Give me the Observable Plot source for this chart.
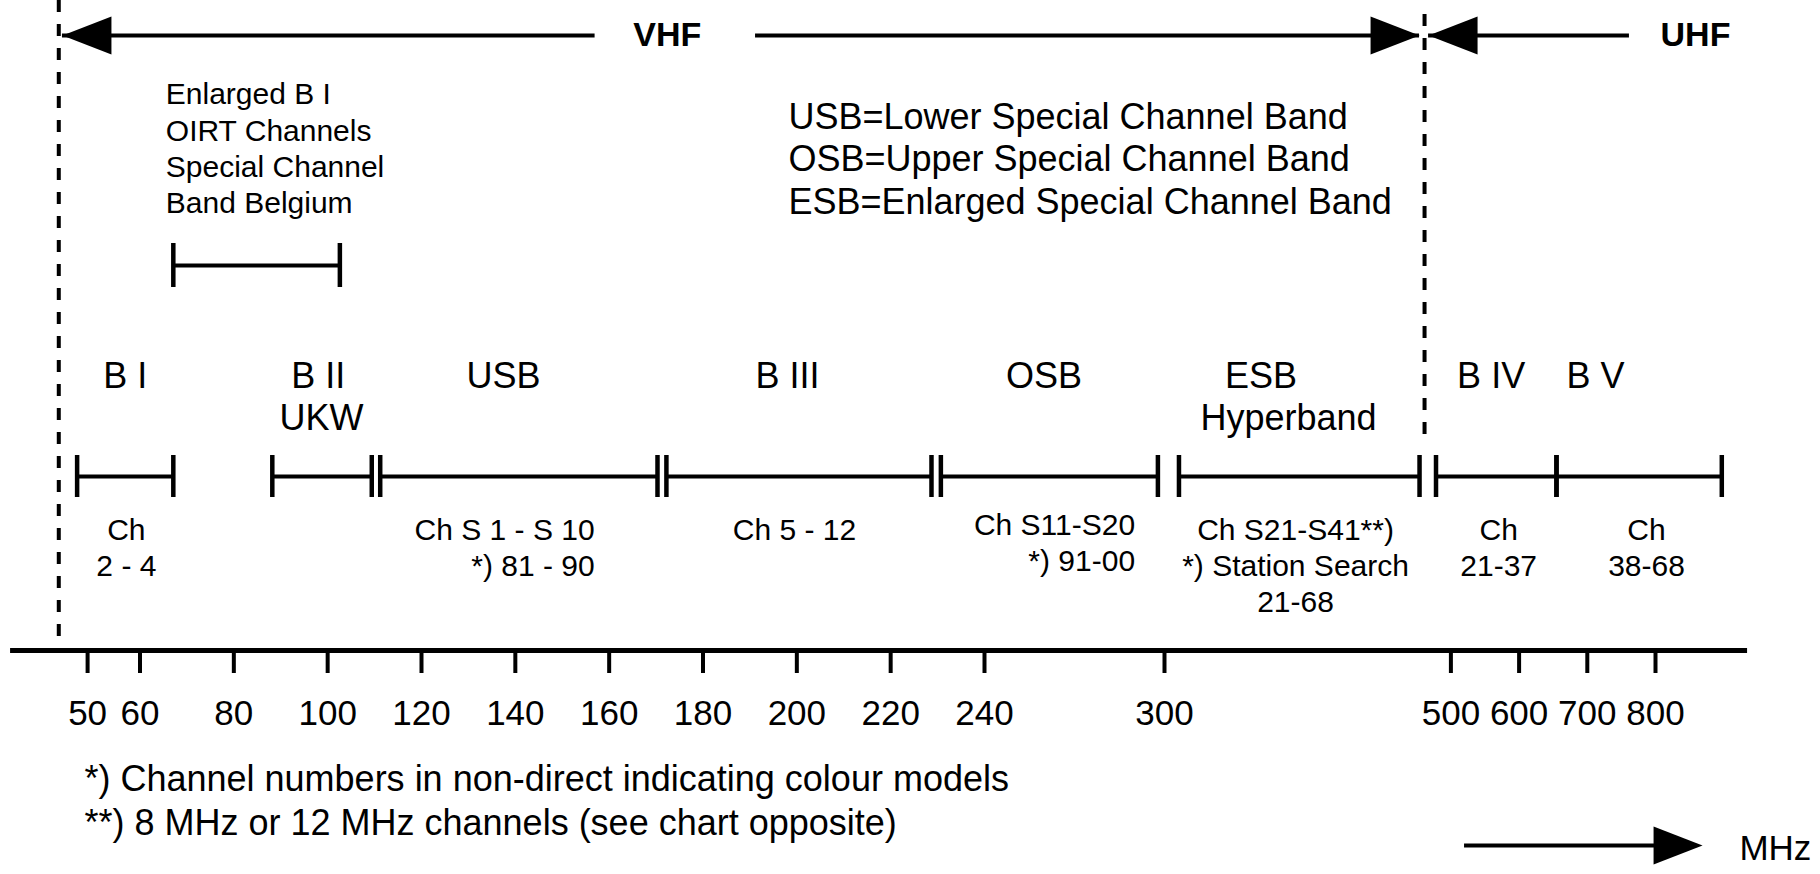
<!DOCTYPE html>
<html>
<head>
<meta charset="utf-8">
<script src="https://cdn.jsdelivr.net/npm/d3@7"></script>
<script src="https://cdn.jsdelivr.net/npm/@observablehq/plot@0.6"></script>
<style>
  html, body { margin: 0; padding: 0; background: #fff; }
  #chart svg { display: block; }
</style>
</head>
<body>
<div id="chart"></div>
<script>
// ---------------- data (MHz) ----------------
const tickValues = [50, 60, 80, 100, 120, 140, 160, 180, 200, 220, 240, 300, 500, 600, 700, 800];

const bandIds         = ["BI", "BII", "USB", "BIII", "OSB", "ESB", "BIV", "BV"];
const bandTitles      = ["B I", "B II", "USB", "B III", "OSB", "ESB", "B IV", "B V"];
const bandTitleMHz    = [57.2, 98.0, 137.5, 198, 259.8, 367.4, 559, 712];
const bandSubtitles   = ["", "UKW", "", "", "", "Hyperband", "", ""];
const bandSubtitleMHz = [null, 98.7, null, null, null, 386.6, null, null];
const bandStartMHz    = [48.0, 88.2, 111.2, 172.2, 230.7, 310.1, 489.6, 654.8];
const bandEndMHz      = [67.1, 109.4, 170.3, 228.7, 297.8, 478.1, 654.8, 897.2];

const channelTexts = ["Ch\n2 - 4", "", "Ch S 1 - S 10\n*) 81 - 90", "Ch 5 - 12", "Ch S11-S20\n*) 91-00",
                      "Ch S21-S41**)\n*) Station Search\n21-68", "Ch\n21-37", "Ch\n38-68"];
const channelMHz   = [57.4, null, 156.9, 199.5, 290.2, 391.5, 570, 786.8];
const channelAlign = ["middle", null, "end", "middle", "end", "middle", "middle", "middle"];

const oirtRangeMHz = [67.1, 102.6];
const oirtNote     = "Enlarged B I\nOIRT Channels\nSpecial Channel\nBand Belgium";
const oirtNoteMHz  = 65.5;

const legendLines  = ["USB=Lower Special Channel Band", "OSB=Upper Special Channel Band", "ESB=Enlarged Special Channel Band"];
const legendMHz    = 198.2;

const footnotes    = ["*) Channel numbers in non-direct indicating colour models",
                      "**) 8 MHz or 12 MHz channels (see chart opposite)"];
const footnoteMHz  = 49.4;

const boundaryMHz  = [44.5, 481.6];             // dashed lines (VHF start, VHF/UHF border)
const vhfArrowMHz  = [45.2, 157, 191.2, 478.1]; // left tip, gap start, gap end, right tip
const vhfLabelMHz  = 172.4;
const uhfArrowMHz  = [484.4, 761.8];
const uhfLabelMHz  = 858.6;
const axisSpanMHz  = [35.3, 935];
const unitArrowMHz = [520, 869];
const unitLabelMHz = 923;

// ---------------- scale (piecewise, as drawn) ----------------
const scaleMHz = [50, 60, 240, 300, 500, 800];
const scalePx  = [87.1, 139.5, 984, 1164, 1450.4, 1655];

// ---------------- layout ----------------
const Y = {arrow: 35, bound1: [0, 644], bound2: [14, 440], note: 78, legend: 98, oirt: 265, oirtHalf: 22,
           title: 361.5, subtitle: 403.5, band: 476, barHalf: 21, chan: 513.5, axis: 650, foot: [779, 823], unit: 845};
const FONT = "'Liberation Sans', Arial, Helvetica, sans-serif";

const bands = bandIds.map((id, i) => ({
  id, title: bandTitles[i], tx: bandTitleMHz[i], sub: bandSubtitles[i], sx: bandSubtitleMHz[i],
  x1: bandStartMHz[i], x2: bandEndMHz[i],
  ch: channelTexts[i], cx: channelMHz[i], align: channelAlign[i]
}));
const ends = bands.flatMap(b => [b.x1, b.x2]);

const headRight = {draw(ctx) { ctx.moveTo(0, 0); ctx.lineTo(-49, -19); ctx.lineTo(-49, 19); ctx.closePath(); }};

const heads = [
  {x: vhfArrowMHz[0], y: Y.arrow, rot: 180},
  {x: vhfArrowMHz[3], y: Y.arrow, rot: 0},
  {x: uhfArrowMHz[0], y: Y.arrow, rot: 180},
  {x: unitArrowMHz[1], y: Y.unit, rot: 0}
];
const shafts = [
  {x1: vhfArrowMHz[0], x2: vhfArrowMHz[1], y: Y.arrow},
  {x1: vhfArrowMHz[2], x2: vhfArrowMHz[3], y: Y.arrow},
  {x1: uhfArrowMHz[0], x2: uhfArrowMHz[1], y: Y.arrow},
  {x1: unitArrowMHz[0], x2: unitArrowMHz[1] - 10, y: Y.unit}
];

const chanMiddle = bands.filter(b => b.align === "middle");
const chanEnd = bands.filter(b => b.align === "end");
const subs = bands.filter(b => b.sub);

const chart = Plot.plot({
  width: 1820,
  height: 874,
  marginTop: 0, marginLeft: 0, marginRight: 0, marginBottom: 874 - Y.axis,
  style: {fontFamily: FONT, fontSize: "35px", color: "#000", background: "#fff"},
  x: {type: "linear", domain: scaleMHz, range: scalePx},
  y: {type: "linear", domain: [0, 874], range: [0, 874], axis: null},
  marks: [
    // dashed boundaries
    Plot.ruleX([boundaryMHz[0]], {x: d => d, y1: Y.bound1[0], y2: Y.bound1[1], stroke: "#000", strokeWidth: 4, strokeDasharray: "12,12"}),
    Plot.ruleX([boundaryMHz[1]], {x: d => d, y1: Y.bound2[0], y2: Y.bound2[1], stroke: "#000", strokeWidth: 4, strokeDasharray: "12,12"}),

    // arrows
    Plot.ruleY(shafts, {x1: "x1", x2: "x2", y: "y", stroke: "#000", strokeWidth: 4}),
    Plot.dot(heads, {x: "x", y: "y", r: 10, symbol: headRight, rotate: "rot", fill: "#000", stroke: "none"}),
    Plot.text(["VHF"], {x: vhfLabelMHz, y: Y.arrow, text: d => d, fontSize: 34, fontWeight: "bold", lineAnchor: "middle", fill: "#000"}),
    Plot.text(["UHF"], {x: uhfLabelMHz, y: Y.arrow, text: d => d, fontSize: 34, fontWeight: "bold", lineAnchor: "middle", fill: "#000"}),

    // OIRT note + bracket
    Plot.text([oirtNote], {x: oirtNoteMHz, y: Y.note, text: d => d, textAnchor: "start", lineAnchor: "top", fontSize: 30, lineHeight: 1.21, fill: "#000"}),
    Plot.ruleY([oirtRangeMHz], {x1: d => d[0], x2: d => d[1], y: Y.oirt, stroke: "#000", strokeWidth: 4}),
    Plot.ruleX(oirtRangeMHz, {x: d => d, y1: Y.oirt - Y.oirtHalf, y2: Y.oirt + Y.oirtHalf, stroke: "#000", strokeWidth: 4.5}),

    // legend
    Plot.text([legendLines.join("\n")], {x: legendMHz, y: Y.legend, text: d => d, textAnchor: "start", lineAnchor: "top", fontSize: 36, lineHeight: 1.18, fill: "#000"}),

    // band titles
    Plot.text(bands, {x: "tx", y: Y.title, text: "title", lineAnchor: "top", fontSize: 36, fill: "#000"}),
    Plot.text(subs, {x: "sx", y: Y.subtitle, text: "sub", lineAnchor: "top", fontSize: 36, fill: "#000"}),

    // band segments with end bars
    Plot.ruleY(bands, {x1: "x1", x2: "x2", y: Y.band, stroke: "#000", strokeWidth: 4}),
    Plot.ruleX(ends, {x: d => d, y1: Y.band - Y.barHalf, y2: Y.band + Y.barHalf, stroke: "#000", strokeWidth: 4.5}),

    // channel labels
    Plot.text(chanMiddle, {x: "cx", y: d => Y.chan, text: "ch", textAnchor: "middle", lineAnchor: "top", fontSize: 30, lineHeight: 1.2, fill: "#000"}),
    Plot.text(chanEnd, {x: "cx", y: d => d.id === "OSB" ? Y.chan - 5 : Y.chan, text: "ch", textAnchor: "end", lineAnchor: "top", fontSize: 30, lineHeight: 1.2, fill: "#000"}),

    // frequency axis
    Plot.ruleY([axisSpanMHz], {x1: d => d[0], x2: d => d[1], y: Y.axis, stroke: "#000", strokeWidth: 5}),
    Plot.axisX(tickValues, {anchor: "bottom", tickSize: 23, tickPadding: 27, fontSize: 35, strokeWidth: 4, tickFormat: d => String(d), label: null, stroke: "#000", fill: "#000"}),

    // footnotes
    Plot.text(footnotes, {x: footnoteMHz, y: (d, i) => Y.foot[i], text: d => d, textAnchor: "start", lineAnchor: "middle", fontSize: 36, fill: "#000"}),

    // unit
    Plot.text(["MHz"], {x: unitLabelMHz, y: Y.unit + 3, text: d => d, textAnchor: "start", lineAnchor: "middle", fontSize: 35, fill: "#000"})
  ]
});

document.getElementById("chart").appendChild(chart);
</script>
</body>
</html>
